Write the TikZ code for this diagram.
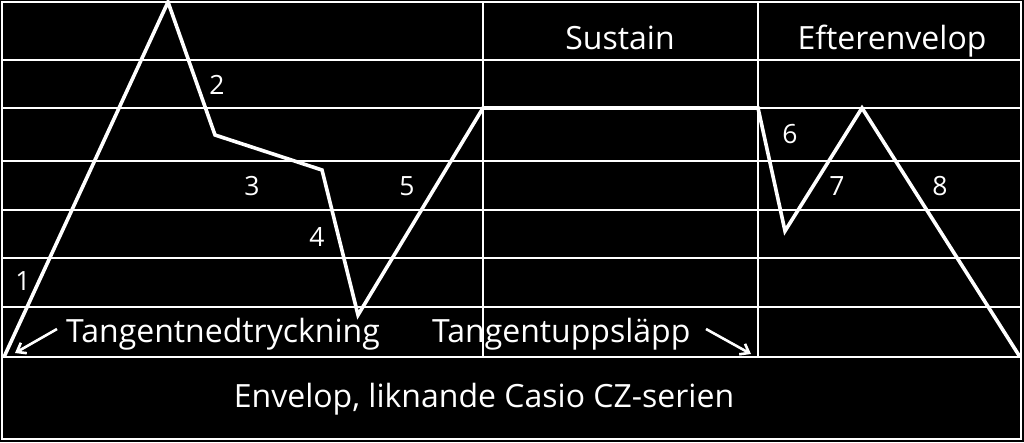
\documentclass[tikz,border=0pt]{standalone}
\usepackage{fontspec}
\setmainfont{Open Sans}
\usetikzlibrary{arrows.meta}
\begin{document}
\begin{tikzpicture}[x=1pt,y=-1pt,
  grid/.style={draw=white,line width=2.6pt},
  env/.style={draw=white,line width=3.6pt,line join=miter},
  lbl/.style={text=white,font=\fontsize{32}{38}\selectfont,inner sep=0pt},
  num/.style={text=white,font=\fontsize{26.5}{30}\selectfont,inner sep=0pt},
  pointer/.style={draw=white,line width=2.6pt,-{Straight Barb[length=8pt,width=12pt,line width=2.6pt]}}]
\fill[black] (0,0) rectangle (1024,442);
\useasboundingbox (0,0) rectangle (1024,442);
% grid
\foreach \y in {60,108,161,210,258,307}{
  \draw[grid] (2,\y) -- (1021,\y);
}
\draw[grid] (2,357) -- (1021,357);
\draw[grid] (2,2) rectangle (1021,439);
\draw[grid] (483,2) -- (483,357);
\draw[grid] (758,2) -- (758,357);
% envelope points
\coordinate (p0) at (4,357);
\coordinate (p1) at (168,2);
\coordinate (p2) at (215,135);
\coordinate (p3) at (322,170);
\coordinate (p4) at (358,315);
\coordinate (p5) at (483,108);
\coordinate (p6) at (758,108);
\coordinate (p7) at (785,231);
\coordinate (p8) at (862,108);
\coordinate (p9) at (1020,357);
\draw[env] (p0) -- (p1) -- (p2) -- (p3) -- (p4) -- (p5) -- (p6) -- (p7) -- (p8) -- (p9);
% numbers
\node[num] (n1) at (23,281) {1};
\node[num] (n2) at (217,85) {2};
\node[num] (n3) at (252,186) {3};
\node[num] (n4) at (317,237) {4};
\node[num] (n5) at (407,186) {5};
\node[num] (n6) at (790,134) {6};
\node[num] (n7) at (837,186) {7};
\node[num] (n8) at (940,186) {8};
% texts
\node[lbl,anchor=base] (sus) at (620,49) {Sustain};
\node[lbl,anchor=base] (eft) at (892,49) {Efterenvelop};
\node[lbl,anchor=base west] (tn) at (66,342) {Tangentnedtryckning};
\node[lbl,anchor=base west] (tu) at (432,342) {Tangentuppsläpp};
\node[lbl,anchor=base] (title) at (484,407) {Envelop, liknande Casio CZ-serien};
% pointers
\coordinate (a1s) at (57,329);
\coordinate (a1e) at (15,353);
\coordinate (a2s) at (706,329);
\coordinate (a2e) at (751,354);
\draw[pointer] (a1s) -- (a1e);
\draw[pointer] (a2s) -- (a2e);
\end{tikzpicture}
\end{document}
